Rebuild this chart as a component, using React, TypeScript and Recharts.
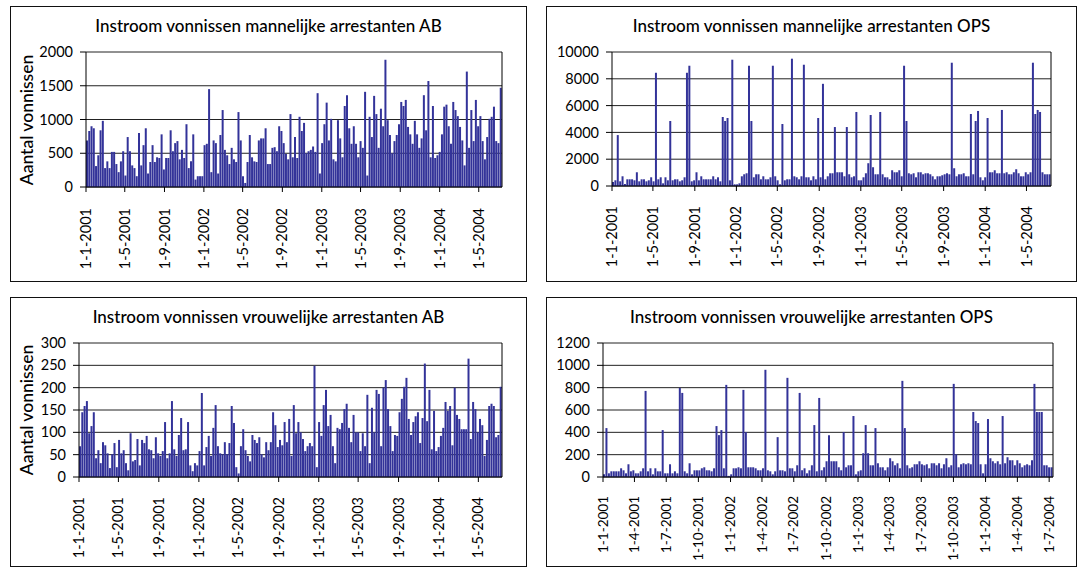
import React from "react";
import { BarChart, Bar, XAxis, YAxis, CartesianGrid, ReferenceLine } from "recharts";

const FONT = "Lato, 'Open Sans', sans-serif";
const BAR_COLOR = "#333399";

// x-as: dagen sinds 1-1-2001, één staaf per week
const TICKS_4M = [0, 120, 243, 365, 485, 608, 730, 850, 973, 1095, 1216];
const LABELS_4M = [
  "1-1-2001", "1-5-2001", "1-9-2001", "1-1-2002", "1-5-2002", "1-9-2002",
  "1-1-2003", "1-5-2003", "1-9-2003", "1-1-2004", "1-5-2004",
];
const TICKS_3M = [0, 90, 181, 273, 365, 455, 546, 638, 730, 820, 911, 1003, 1095, 1186, 1277];
const LABELS_3M = [
  "1-1-2001", "1-4-2001", "1-7-2001", "1-10-2001", "1-1-2002", "1-4-2002", "1-7-2002",
  "1-10-2002", "1-1-2003", "1-4-2003", "1-7-2003", "1-10-2003", "1-1-2004", "1-4-2004", "1-7-2004",
];

const Y_MANNEN_AB = [0, 500, 1000, 1500, 2000];
const Y_MANNEN_OPS = [0, 2000, 4000, 6000, 8000, 10000];
const Y_VROUWEN_AB = [0, 50, 100, 150, 200, 250, 300];
const Y_VROUWEN_OPS = [0, 200, 400, 600, 800, 1000, 1200];

const mannenAB = [
  690, 830, 900, 870, 310, 470, 840, 980, 280, 380,
  280, 520, 520, 340, 220, 380, 530, 170, 740, 530,
  320, 280, 160, 800, 320, 620, 870, 200, 370, 620,
  370, 440, 430, 780, 260, 430, 430, 840, 530, 650,
  680, 410, 550, 430, 930, 280, 380, 780, 110, 160,
  160, 160, 620, 640, 1450, 220, 690, 650, 200, 770,
  1140, 550, 470, 340, 580, 410, 370, 1110, 690, 160,
  60, 370, 770, 440, 380, 370, 690, 720, 720, 870,
  340, 340, 580, 590, 530, 900, 830, 650, 490, 410,
  1080, 440, 740, 430, 1040, 830, 950, 500, 530, 550,
  600, 520, 1390, 200, 650, 930, 1250, 690, 1010, 410,
  380, 990, 720, 440, 1200, 1360, 870, 640, 900, 640,
  440, 680, 580, 1410, 170, 1040, 740, 1350, 1080, 580,
  1160, 900, 1885, 990, 770, 500, 680, 770, 930, 1260,
  1200, 1290, 890, 780, 640, 980, 780, 580, 720, 1360,
  840, 1570, 440, 1200, 430, 470, 520, 780, 1190, 1220,
  900, 640, 1260, 1140, 1050, 890, 690, 320, 1710, 580,
  1140, 680, 1290, 900, 1050, 680, 410, 740, 1010, 1040,
  1190, 680, 650, 1470,
];

const mannenOPS = [
  300, 425, 3800, 350, 725, 150, 500, 500, 500, 425,
  1025, 350, 500, 500, 350, 425, 650, 350, 8450, 500,
  650, 200, 650, 425, 4850, 425, 500, 500, 350, 425,
  650, 8450, 8975, 350, 425, 1025, 425, 725, 500, 500,
  500, 500, 725, 500, 650, 350, 5150, 4850, 5075, 425,
  9425, 125, 125, 200, 725, 875, 950, 8975, 4850, 650,
  875, 875, 500, 725, 500, 500, 650, 8975, 725, 425,
  125, 4625, 425, 500, 500, 9500, 725, 650, 500, 725,
  9050, 650, 650, 425, 725, 500, 5075, 650, 7625, 500,
  725, 950, 950, 4400, 1025, 1025, 1025, 725, 4400, 875,
  650, 725, 5525, 425, 425, 650, 950, 1700, 5300, 1400,
  875, 875, 5525, 875, 650, 650, 500, 1175, 1025, 1025,
  1175, 725, 8975, 4850, 950, 875, 950, 650, 1025, 1025,
  875, 950, 950, 875, 725, 500, 725, 725, 800, 875,
  950, 875, 9200, 1325, 725, 875, 875, 950, 725, 725,
  5375, 875, 4850, 5600, 650, 425, 650, 5075, 1025, 1025,
  1175, 950, 950, 5675, 950, 1025, 875, 875, 1025, 1250,
  950, 725, 725, 1025, 875, 1025, 9200, 5375, 5675, 5525,
  1025, 875, 875, 875,
];

const vrouwenAB = [
  69, 145, 159, 170, 98, 114, 145, 42, 60, 31,
  78, 71, 53, 20, 51, 76, 22, 83, 53, 60,
  31, 15, 98, 35, 38, 85, 26, 83, 76, 92,
  62, 60, 42, 89, 53, 47, 58, 123, 42, 53,
  170, 62, 47, 94, 132, 60, 62, 123, 26, 13,
  31, 26, 58, 188, 26, 67, 92, 47, 110, 161,
  69, 53, 51, 78, 51, 76, 159, 121, 22, 8,
  69, 107, 60, 47, 35, 94, 83, 76, 89, 51,
  44, 78, 60, 78, 145, 116, 67, 83, 71, 123,
  78, 130, 47, 161, 98, 123, 100, 85, 58, 69,
  76, 69, 249, 22, 123, 92, 161, 195, 114, 139,
  69, 31, 110, 107, 121, 152, 164, 110, 78, 139,
  100, 100, 58, 98, 69, 184, 31, 155, 100, 195,
  186, 69, 200, 217, 152, 114, 58, 94, 92, 145,
  175, 202, 222, 130, 94, 123, 136, 145, 76, 132,
  254, 125, 195, 62, 148, 58, 67, 92, 110, 168,
  148, 159, 71, 200, 139, 130, 107, 107, 107, 265,
  85, 168, 152, 100, 130, 116, 47, 83, 159, 164,
  159, 89, 94, 202,
];

const vrouwenOPS = [
  24, 438, 33, 51, 51, 51, 51, 78, 60, 33,
  114, 51, 60, 33, 33, 51, 78, 771, 51, 78,
  24, 78, 51, 51, 420, 33, 33, 114, 33, 51,
  33, 798, 753, 51, 33, 123, 24, 60, 60, 60,
  78, 87, 60, 60, 51, 78, 456, 375, 420, 78,
  825, 10, 24, 78, 78, 87, 78, 780, 402, 87,
  87, 87, 78, 60, 60, 78, 960, 60, 51, 24,
  51, 357, 60, 60, 51, 888, 78, 78, 51, 105,
  753, 60, 78, 33, 60, 105, 465, 51, 708, 60,
  87, 141, 375, 141, 141, 141, 87, 60, 402, 87,
  105, 105, 546, 24, 51, 60, 213, 465, 213, 105,
  105, 438, 123, 87, 87, 60, 87, 168, 141, 105,
  123, 78, 861, 438, 105, 78, 87, 114, 114, 141,
  114, 105, 114, 78, 123, 123, 105, 123, 78, 114,
  168, 87, 105, 834, 204, 87, 114, 123, 114, 123,
  114, 582, 501, 483, 114, 33, 114, 519, 168, 141,
  123, 141, 114, 546, 123, 177, 150, 150, 105, 150,
  123, 87, 105, 114, 105, 150, 834, 582, 582, 582,
  105, 105, 87, 87,
];

function toWeeks(values: number[]) {
  return values.map((v, i) => ({ dag: i * 7 + 3.5, v }));
}

function DateTick(props: any) {
  const { x, y, payload, labels, ticks, gap, size } = props;
  const label = labels[ticks.indexOf(payload.value)] ?? "";
  const ty = y + gap;
  return (
    <text
      x={x}
      y={ty}
      transform={`rotate(-90 ${x} ${ty})`}
      textAnchor="end"
      dy="0.35em"
      fontSize={size}
      fill="#000"
      fontFamily={FONT}
    >
      {label}
    </text>
  );
}

interface Box { left: number; top: number; right: number; bottom: number }

interface PanelProps {
  title:   string;
  values:  number[];
  yTicks:  number[];
  xTicks:  number[];
  xLabels: string[];
  box:     Box;
  plot:    Box;
  yTitle?: boolean;
  gap:     number;
  size?:   number;
}

function Panel({ title, values, yTicks, xTicks, xLabels, box, plot, yTitle, gap, size = 14.5 }: PanelProps) {
  const w = box.right - box.left;
  const h = box.bottom - box.top;
  const data = toWeeks(values);
  const end = values.length * 7;
  const yMax = yTicks[yTicks.length - 1];

  return (
    <>
      <div style={{
        position: "absolute", left: box.left, top: box.top, width: w, height: h,
        border: "1px solid #111", boxSizing: "border-box",
      }} />
      <div style={{
        position: "absolute", left: box.left, top: box.top + 9, width: w,
        textAlign: "center", fontSize: 17, fontWeight: 500, fontFamily: FONT, color: "#000",
      }}>
        {title}
      </div>
      {yTitle && (
        <div style={{
          position: "absolute", left: box.left + 17 - 90, top: (plot.top + plot.bottom) / 2 - 10,
          width: 180, height: 20, lineHeight: "20px", textAlign: "center",
          transform: "rotate(-90deg)", fontSize: 17.5, fontWeight: 500, fontFamily: FONT, color: "#000",
        }}>
          Aantal vonnissen
        </div>
      )}
      <div style={{ position: "absolute", left: box.left, top: box.top }}>
        <BarChart
          width={w}
          height={h}
          data={data}
          margin={{ top: plot.top - box.top, right: box.right - plot.right, left: 0, bottom: 0 }}
        >
          <CartesianGrid horizontal vertical={false} stroke="#222" strokeWidth={1} />
          <XAxis
            dataKey="dag"
            type="number"
            domain={[0, end]}
            ticks={xTicks}
            interval={0}
            height={box.bottom - plot.bottom}
            axisLine={{ stroke: "#000" }}
            tickLine={{ stroke: "#000" }}
            tickSize={5}
            tickMargin={0}
            tick={(p: any) => <DateTick {...p} labels={xLabels} ticks={xTicks} gap={gap} size={size} />}
          />
          <YAxis
            type="number"
            domain={[0, yMax]}
            ticks={yTicks}
            interval={0}
            width={plot.left - box.left}
            axisLine={{ stroke: "#000" }}
            tickLine={{ stroke: "#000" }}
            tickSize={6}
            tickMargin={7}
            tick={{ fontSize: 14.5, fill: "#000", fontFamily: FONT }}
          />
          <ReferenceLine x={end} stroke="#000" />
          <Bar dataKey="v" fill={BAR_COLOR} barSize={2} isAnimationActive={false} />
        </BarChart>
      </div>
    </>
  );
}

export default function App() {
  return (
    <div style={{ position: "absolute", left: 0, top: 0, width: 1083, height: 569, background: "#fff" }}>
      <Panel
        title="Instroom vonnissen mannelijke arrestanten AB"
        values={mannenAB}
        yTicks={Y_MANNEN_AB}
        xTicks={TICKS_4M}
        xLabels={LABELS_4M}
        box={{ left: 10, top: 6, right: 527, bottom: 282 }}
        plot={{ left: 86, top: 52, right: 502, bottom: 187 }}
        yTitle
        gap={16}
      />
      <Panel
        title="Instroom vonnissen mannelijke arrestanten OPS"
        values={mannenOPS}
        yTicks={Y_MANNEN_OPS}
        xTicks={TICKS_4M}
        xLabels={LABELS_4M}
        box={{ left: 546, top: 6, right: 1077, bottom: 282 }}
        plot={{ left: 612, top: 52, right: 1051, bottom: 186 }}
        gap={15}
      />
      <Panel
        title="Instroom vonnissen vrouwelijke arrestanten AB"
        values={vrouwenAB}
        yTicks={Y_VROUWEN_AB}
        xTicks={TICKS_4M}
        xLabels={LABELS_4M}
        box={{ left: 10, top: 297, right: 527, bottom: 567 }}
        plot={{ left: 79, top: 343, right: 502, bottom: 477 }}
        yTitle
        gap={15}
      />
      <Panel
        title="Instroom vonnissen vrouwelijke arrestanten OPS"
        values={vrouwenOPS}
        yTicks={Y_VROUWEN_OPS}
        xTicks={TICKS_3M}
        xLabels={LABELS_3M}
        box={{ left: 546, top: 297, right: 1077, bottom: 567 }}
        plot={{ left: 603, top: 343, right: 1053, bottom: 477 }}
        gap={14}
        size={13.5}
      />
    </div>
  );
}
